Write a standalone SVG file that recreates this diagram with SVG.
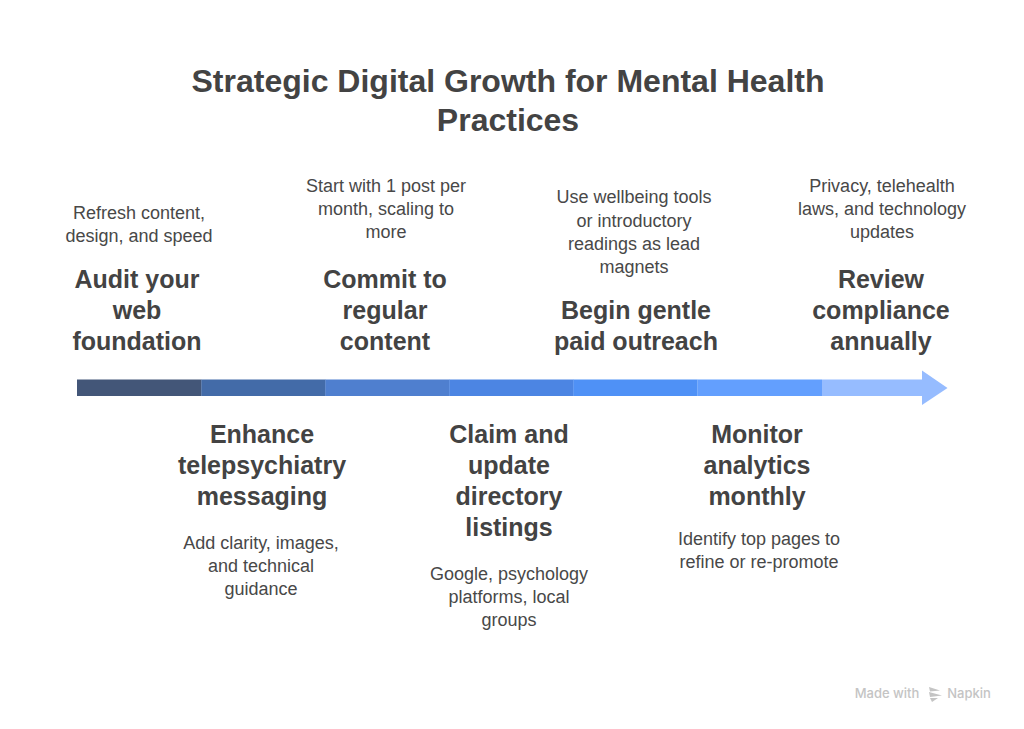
<svg xmlns="http://www.w3.org/2000/svg" width="1024" height="729" viewBox="0 0 1024 729">
<style>
text{font-family:"Liberation Sans",Arial,sans-serif;text-anchor:middle}
.t{font-size:32px;font-weight:700;fill:#434343}
.h{font-size:25px;font-weight:700;fill:#434343}
.d{font-size:18px;fill:#484848}
</style>
<rect width="1024" height="729" fill="#fff"/>
<g id="title"><text class="t" x="508" y="92">Strategic Digital Growth for Mental Health</text><text class="t" x="508" y="131">Practices</text></g>
<g id="connectors">
<rect x="77" y="379.5" width="124.5" height="16.5" fill="#435678"/>
<rect x="201.300" y="379.5" width="124.300" height="16.5" fill="#436ba8"/>
<rect x="325.300" y="379.500" width="124.300" height="16.500" fill="#4f7fcf"/>
<rect x="449.300" y="379.500" width="124.300" height="16.500" fill="#4c85e3"/>
<rect x="573.300" y="379.500" width="124.300" height="16.500" fill="#4f91f6"/>
<rect x="697.500" y="379.500" width="124.500" height="16.500" fill="#639ffe"/>
<path d="M822 379.500H922V370.500L947.500 388L922 405V396H822Z" fill="#96bcff"/>
</g>
<g id="node1"><text class="d" x="139" y="219">Refresh content,</text><text class="d" x="139" y="242">design, and speed</text><text class="h" x="137" y="288">Audit your</text><text class="h" x="137" y="319">web</text><text class="h" x="137" y="350">foundation</text></g>
<g id="node2"><text class="h" x="262" y="443">Enhance</text><text class="h" x="262" y="474">telepsychiatry</text><text class="h" x="262" y="505">messaging</text><text class="d" x="261" y="549">Add clarity, images,</text><text class="d" x="261" y="572">and technical</text><text class="d" x="261" y="595">guidance</text></g>
<g id="node3"><text class="d" x="386" y="192">Start with 1 post per</text><text class="d" x="386" y="215">month, scaling to</text><text class="d" x="386" y="238">more</text><text class="h" x="385" y="288">Commit to</text><text class="h" x="385" y="319">regular</text><text class="h" x="385" y="350">content</text></g>
<g id="node4"><text class="h" x="509" y="443">Claim and</text><text class="h" x="509" y="474">update</text><text class="h" x="509" y="505">directory</text><text class="h" x="509" y="536">listings</text><text class="d" x="509" y="580">Google, psychology</text><text class="d" x="509" y="603">platforms, local</text><text class="d" x="509" y="626">groups</text></g>
<g id="node5"><text class="d" x="634" y="203">Use wellbeing tools</text><text class="d" x="634" y="227">or introductory</text><text class="d" x="634" y="250">readings as lead</text><text class="d" x="634" y="273">magnets</text><text class="h" x="636" y="319">Begin gentle</text><text class="h" x="636" y="350">paid outreach</text></g>
<g id="node6"><text class="h" x="757" y="443">Monitor</text><text class="h" x="757" y="474">analytics</text><text class="h" x="757" y="505">monthly</text><text class="d" x="759" y="545">Identify top pages to</text><text class="d" x="759" y="568">refine or re-promote</text></g>
<g id="node7"><text class="d" x="882" y="192">Privacy, telehealth</text><text class="d" x="882" y="215">laws, and technology</text><text class="d" x="882" y="238">updates</text><text class="h" x="881" y="288">Review</text><text class="h" x="881" y="319">compliance</text><text class="h" x="881" y="350">annually</text></g>
<g id="watermark"><text x="887" y="698" style="font-family:Inter,'Liberation Sans',sans-serif;font-size:13px;font-weight:500" fill="#c4c4c4">Made with</text>
<path d="M929 687l11 3.500-10 1zM929 692l13 3.500-12 1.500zM930 698l8 0-6 4z" fill="#c4c4c4"/>
<text x="969" y="698" style="font-family:Inter,'Liberation Sans',sans-serif;font-size:13px;font-weight:500" fill="#c4c4c4">Napkin</text></g>
</svg>
